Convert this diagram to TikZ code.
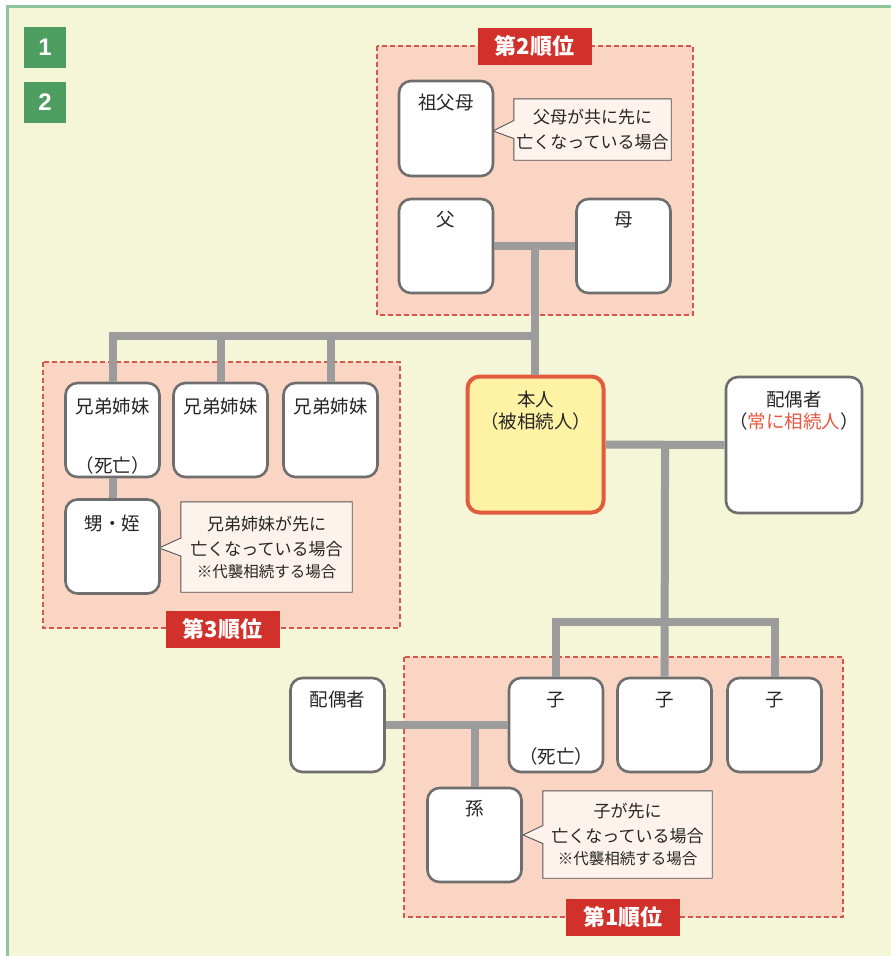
\documentclass[tikz,border=0pt]{standalone}
\usepackage{fontspec}
\setmainfont{Noto Sans CJK JP}
\newfontfamily\numfont{Liberation Sans}
\usetikzlibrary{calc}
\definecolor{cream}{HTML}{F4F6D7}
\definecolor{salmon}{HTML}{FBD5C4}
\definecolor{dashred}{HTML}{D8574B}
\definecolor{labred}{HTML}{D1312A}
\definecolor{boxgray}{HTML}{6E6E6E}
\definecolor{conngray}{HTML}{9C9C9C}
\definecolor{frameg}{HTML}{8DC49B}
\definecolor{greenbox}{HTML}{4E9E62}
\definecolor{selfyellow}{HTML}{FEF3A5}
\definecolor{selforange}{HTML}{E25B3C}
\definecolor{callfill}{HTML}{FDF2EC}
\definecolor{callline}{HTML}{555555}
\definecolor{redtext}{HTML}{E8573F}
\pgfdeclarelayer{bg}
\pgfdeclarelayer{callbg}
\pgfsetlayers{bg,callbg,main}
\begin{document}
\begin{tikzpicture}[x=1pt,y=-1pt,
  person/.style={draw=boxgray, line width=2.6pt, rounded corners=12pt, fill=white,
    minimum width=94pt, minimum height=94pt, inner sep=0pt},
  lbl/.style={anchor=center, font=\fontsize{18.5}{21}\selectfont, text=black!85},
  conn/.style={draw=conngray, line width=8pt},
  region/.style={fill=salmon, draw=dashred, line width=1.8pt, dash pattern=on 5pt off 3pt},
  ordlabel/.style={fill=labred, text=white, font=\fontsize{22}{24}\selectfont\bfseries,
    minimum width=114pt, minimum height=37pt, inner sep=0pt},
  callout/.style={align=center, inner sep=0pt, font=\fontsize{17}{25}\selectfont, text=black!85},
  callshape/.style={draw=callline, line width=0.9pt, fill=callfill},
  numbox/.style={fill=greenbox, text=white, font=\numfont\fontsize{24}{24}\selectfont\bfseries,
    minimum width=42pt, minimum height=41pt, inner sep=0pt}
]
\useasboundingbox (0,0) rectangle (891,956);

% background and frame
\begin{pgfonlayer}{bg}
\fill[white] (0,0) rectangle (891,956);
\fill[cream] (7,6) rectangle (891,956);
\draw[frameg, line width=3pt] (7,956) -- (7,6) -- (891,6);
\draw[region] (377,46) rectangle (693,315);
\draw[region] (43,362) rectangle (400,628);
\draw[region] (404,657) rectangle (843,917);
\end{pgfonlayer}

% number boxes
\node[numbox] (n1) at (45,47.5) {1};
\node[numbox] (n2) at (45,102) {2};

% persons
\node[person, minimum height=95pt] (gp) at (446,128.5) {};
\node[person] (fa) at (446,246) {};
\node[person] (mo) at (623.5,246) {};
\node[person, draw=selforange, line width=4pt, fill=selfyellow, minimum width=136pt, minimum height=136pt] (self) at (535.5,444.5) {};
\node[person, minimum width=136pt, minimum height=136pt] (sp) at (794,445) {};
\node[person] (s1) at (112.5,430) {};
\node[person] (s2) at (220.5,430) {};
\node[person] (s3) at (330.5,430) {};
\node[person] (oi) at (112.5,546.5) {};
\node[person] (k1) at (556,725) {};
\node[person] (k2) at (664.5,725) {};
\node[person] (k3) at (774.5,725) {};
\node[person] (sp2) at (337.5,725) {};
\node[person] (mago) at (474.5,835) {};

% labels inside boxes
\node[lbl] (gpl) at ([yshift=-23pt]gp.north) {祖父母};
\node[lbl] (fal) at ([yshift=-22pt]fa.north) {父};
\node[lbl] (mol) at ([yshift=-22pt]mo.north) {母};
\node[lbl] (selfl1) at ([yshift=-25pt]self.north) {本人};
\node[lbl] (selfl2) at ([yshift=-47pt]self.north) {（被相続人）};
\node[lbl] (spl1) at ([yshift=-24pt]sp.north) {配偶者};
\node[lbl] (spl2) at ([yshift=-46pt]sp.north) {（\textcolor{redtext}{常に相続人}）};
\node[lbl] (s1l) at ([yshift=-25pt]s1.north) {兄弟姉妹};
\node[lbl] (s1d) at ([yshift=13pt]s1.south) {（死亡）};
\node[lbl] (s2l) at ([yshift=-25pt]s2.north) {兄弟姉妹};
\node[lbl] (s3l) at ([yshift=-25pt]s3.north) {兄弟姉妹};
\node[lbl] (oil) at ([yshift=-25pt]oi.north) {甥・姪};
\node[lbl] (k1l) at ([yshift=-23pt]k1.north) {子};
\node[lbl] (k1d) at ([yshift=17pt]k1.south) {（死亡）};
\node[lbl] (k2l) at ([yshift=-23pt]k2.north) {子};
\node[lbl] (k3l) at ([yshift=-23pt]k3.north) {子};
\node[lbl] (sp2l) at ([yshift=-23pt]sp2.north) {配偶者};
\node[lbl] (magol) at ([yshift=-22pt]mago.north) {孫};

% connectors
\coordinate (pj) at ($(fa.east)!0.5!(mo.west)$);
\draw[conn] (fa.east) -- (mo.west);
\draw[conn] (pj) -- (pj |- self.north);
\coordinate (sbus) at (pj |- 0,336);
\draw[conn] (s1.north) |- (sbus);
\draw[conn] (s2.north) -- (s2.north |- sbus);
\draw[conn] (s3.north) -- (s3.north |- sbus);
\draw[conn] (s1.south) -- (oi.north);
\coordinate (cj) at ($(self.east)!0.5!(sp.west)$);
\draw[conn] (self.east) -- (sp.west);
\coordinate (kbus) at (cj |- 0,622);
\draw[conn] (cj) -- (k2.north);
\draw[conn] (k1.north) |- (kbus) -| (k3.north);
\draw[conn] (sp2.east) -- (k1.west);
\draw[conn] (mago.north) -- (mago.north |- k1.west);

% callouts
\node[callout, minimum width=157pt, minimum height=61pt] (c2) at (592.5,129.5) {父母が共に先に\\亡くなっている場合};
\coordinate (c2tip) at (493,131);
\node[callout, minimum width=171pt, minimum height=90pt] (c3) at (266.5,547) {兄弟姉妹が先に\\亡くなっている場合\\[-3pt]{\fontsize{15.5}{18}\selectfont ※代襲相続する場合}};
\coordinate (c3tip) at (159,548);
\node[callout, minimum width=169pt, minimum height=87pt] (c1) at (627.5,834.5) {子が先に\\亡くなっている場合\\[-3pt]{\fontsize{15.5}{18}\selectfont ※代襲相続する場合}};
\coordinate (c1tip) at (523,835);
\begin{pgfonlayer}{callbg}
\foreach \c in {c2,c3,c1}{
  \draw[callshape] (\c.north west) -- (\c.north east) -- (\c.south east) -- (\c.south west)
    -- ([yshift=-9pt]\c.west) -- (\c tip) -- ([yshift=9pt]\c.west) -- cycle;
}
\end{pgfonlayer}

% order labels
\node[ordlabel] (o2) at (534.5,46) {第2順位};
\node[ordlabel] (o3) at (222.5,629) {第3順位};
\node[ordlabel] (o1) at (623,917) {第1順位};
\end{tikzpicture}
\end{document}
